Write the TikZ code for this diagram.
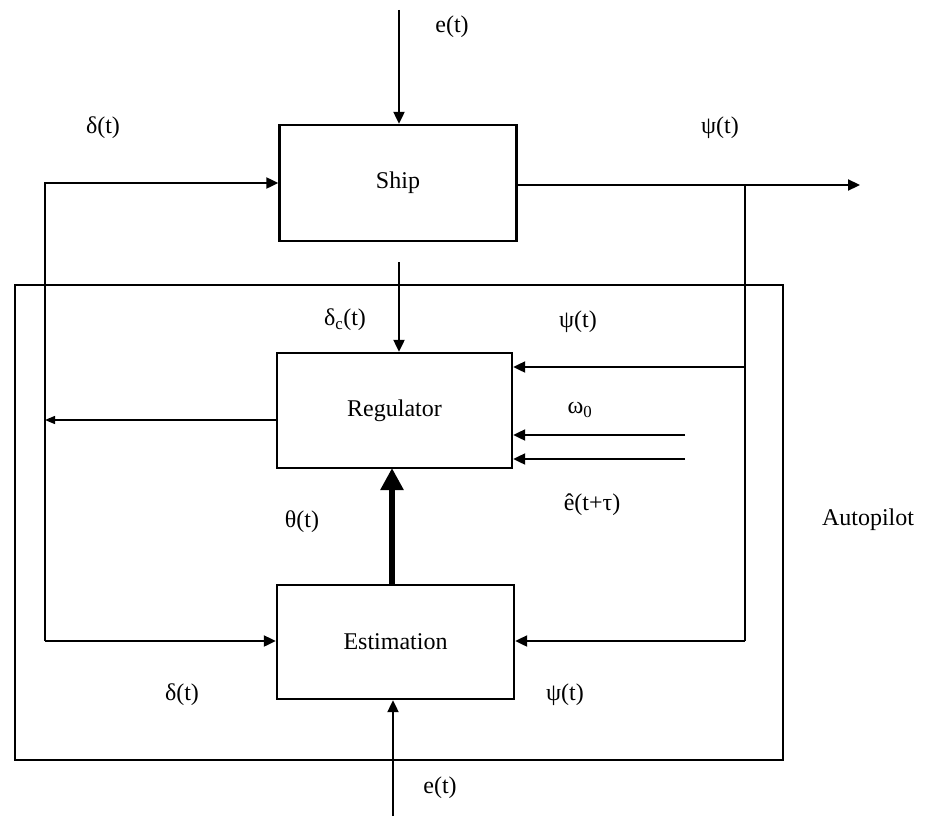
\documentclass[tikz,border=0pt]{standalone}
\usepackage{fontspec}
\setmainfont{Liberation Serif}
\usetikzlibrary{arrows.meta}
\begin{document}
\begin{tikzpicture}[x=1pt,y=-1pt,
  blk/.style={draw,line width=2.4pt,minimum width=237pt,minimum height=116pt,inner sep=0pt},
  lbl/.style={font=\fontsize{24}{28}\selectfont,inner sep=0pt},
  conn/.style={line width=2.2pt,-{Triangle[length=12pt,width=11pt]}},
  line/.style={line width=2.2pt}]
\useasboundingbox (0,0) rectangle (931,816);
\node[blk] (ship) at (398,183) {};
\node[lbl] at (ship.center) {Ship};
\node[blk,minimum height=115pt,minimum width=235pt] (reg) at (394.5,410.5) {};
\node[lbl] at (reg.center) {Regulator};
\node[blk,minimum height=114pt,minimum width=237pt] (est) at (395.5,642) {};
\node[lbl] at (est.center) {Estimation};
\node[draw,line width=1.2pt,minimum width=768pt,minimum height=475pt,inner sep=0pt] (auto) at (399,522.5) {};
% coordinates
\coordinate (etop) at (399,10);
\coordinate (ebot) at (393,816);
\coordinate (lt) at (45,183);
\coordinate (lb) at (45,641);
\coordinate (rt) at (745,185);
\coordinate (rr) at (745,367);
\coordinate (rb) at (745,641);
\coordinate (out) at (860,185);
\coordinate (dc) at (399,262);
\coordinate (w1) at (685,435);
\coordinate (w2) at (685,459);
\coordinate (rl) at (45,420);
% connectors
\draw[conn] (etop) -- (etop |- ship.north);
\draw[conn] (lb) -- (lt) -- (lt -| ship.west);
\draw[conn] (ship.east |- out) -- (out);
\draw[line] (rt) -- (rb);
\draw[conn] (dc) -- (dc |- reg.north);
\draw[conn] (rr) -- (rr -| reg.east);
\draw[conn] (w1) -- (w1 -| reg.east);
\draw[conn] (w2) -- (w2 -| reg.east);
\draw[line width=1.3pt,-{Triangle[length=10pt,width=8pt]}] (reg.west |- rl) -- (rl);
\draw[line width=6pt,-{Triangle[length=22pt,width=22pt]}] (392,585) -- (392,468);
\draw[conn] (lb) -- (lb -| est.west);
\draw[conn] (rb) -- (rb -| est.east);
\draw[conn] (ebot) -- (ebot |- est.south);
% labels
\node[lbl] at (452,27) {e(t)};
\node[lbl] at (103,128) {δ(t)};
\node[lbl] at (720,128) {ψ(t)};
\node[lbl] at (345,320) {δ\textsubscript{c}(t)};
\node[lbl] at (578,322) {ψ(t)};
\node[lbl] at (580,410) {ω\textsubscript{0}};
\node[lbl] at (592,505) {ê(t+τ)};
\node[lbl] at (302,522) {θ(t)};
\node[lbl] at (868,520) {Autopilot};
\node[lbl] at (182,695) {δ(t)};
\node[lbl] at (565,695) {ψ(t)};
\node[lbl] at (440,788) {e(t)};
\end{tikzpicture}
\end{document}
